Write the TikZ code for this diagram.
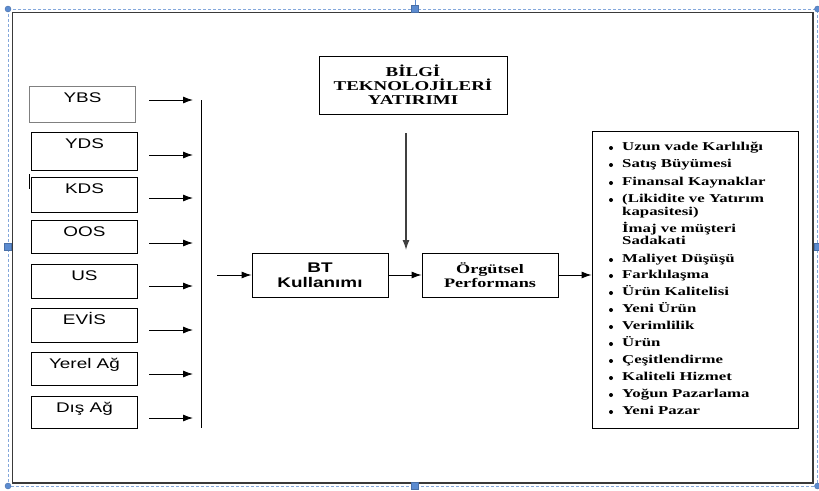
\documentclass[tikz,border=0pt]{standalone}
\usepackage{fontspec}
\setmainfont{Liberation Serif}
\newfontfamily\sansS[FakeStretch=1.35]{Liberation Sans}
\newfontfamily\serS[FakeStretch=1.4]{Liberation Serif}
\usetikzlibrary{arrows.meta}
\definecolor{selblue}{HTML}{5B8BD0}
\definecolor{framecol}{HTML}{3A3A3A}
\begin{document}
\begin{tikzpicture}[x=1pt,y=-1pt,
  arr/.style={-{Latex[length=10pt,width=7pt]}, line width=0.9pt},
  inbox/.style={draw, line width=0.9pt, anchor=north west, inner sep=0pt, minimum width=106pt},
  lbl/.style={anchor=base, inner sep=0pt, font=\sansS\fontsize{14}{16}\selectfont},
  midbox/.style={draw, line width=0.9pt, align=center, inner sep=0pt},
  litem/.style={anchor=mid west, inner sep=0pt, font=\serS\bfseries\fontsize{12}{13}\selectfont},
  bul/.style={circle, fill, inner sep=0pt, minimum size=4pt},
  handle/.style={fill=selblue, draw=selblue!80!black, line width=0.4pt}
]
\useasboundingbox (0,0) rectangle (819,490);
% selection frame
\draw[selblue!75, line width=1pt, dash pattern=on 3pt off 2pt] (8,9) rectangle (817.5,486);
% outer frame
\draw[framecol, line width=1.4pt] (12.5,12.5) rectangle (813,483);
% handles
\draw[selblue, line width=1pt] (415,0) -- (415,9);
\foreach \hx/\hy in {8/9, 817.5/9, 8/486, 817.5/486}
  \filldraw[handle] (\hx,\hy) circle (3pt);
\foreach \hx/\hy in {415/9, 415/486, 8/247, 817.5/247}
  \filldraw[handle] (\hx-3.5,\hy-3.5) rectangle (\hx+3.5,\hy+3.5);

% left boxes
\foreach \i/\bx/\by/\bh/\t/\ay/\bc in {1/29/86/36/YBS/100/gray, 2/31/132/38/YDS/155/black, 3/31/177/35/KDS/198/black, 4/31/220/33/OOS/243/black, 5/31/264/34/US/286/black, 6/31/308/34/EVİS/330/black, 7/31/352/33/Yerel Ağ/374/black, 8/31/396/32/Dış Ağ/418/black}{
  \node[inbox, draw=\bc, minimum height=\bh pt] (b\i) at (\bx,\by) {};
  \node[lbl] (t\i) at ([yshift=-16pt]b\i.north) {\t};
  \coordinate (s\i) at (149,\ay);
  \coordinate (e\i) at (193,\ay);
  \draw[arr] (s\i) -- (e\i);
}
\draw[line width=1pt] (29,174) -- (29,189);

% bus line
\coordinate (busT) at (201.5,100);
\coordinate (busB) at (201.5,428);
\draw[line width=1pt] (busT) -- (busB);
\coordinate (busOut) at (217,275);

% middle boxes
\node[midbox, minimum width=136pt, minimum height=44pt, font=\sansS\bfseries\fontsize{14}{15}\selectfont] (bt) at (320,275) {BT\\Kullanımı};
\node[midbox, minimum width=136pt, minimum height=44pt, font=\serS\bfseries\fontsize{13}{14}\selectfont] (org) at (490,275) {Örgütsel\\Performans};
\node[midbox, minimum width=188pt, minimum height=58pt, font=\serS\bfseries\fontsize{13.5}{14}\selectfont] (bilgi) at (413,85) {BİLGİ\\TEKNOLOJİLERİ\\YATIRIMI};
\node[draw, line width=0.9pt, minimum width=206pt, minimum height=297pt, inner sep=0pt] (list) at (695,279.5) {};

\draw[arr] (busOut) -- (bt.west);
\draw[arr] (bt.east) -- (org.west);
\draw[arr] (org.east) -- (org.east -| list.west);
\coordinate (vT) at (406,133);
\coordinate (vB) at (406,250);
\draw[arr, line width=1.3pt, black!75] (vT) -- (vB);

% list items
\foreach \i/\y/\t/\b in {1/148/Uzun vade Karlılığı/1, 2/165/Satış Büyümesi/1, 3/183/Finansal Kaynaklar/1, 4/200/(Likidite ve Yatırım/1, 5/213/kapasitesi)/0, 6/230/İmaj ve müşteri/0, 7/242/Sadakati/0, 8/260/Maliyet Düşüşü/1, 9/276/Farklılaşma/1, 10/293/Ürün Kalitelisi/1, 11/310/Yeni Ürün/1, 12/327/Verimlilik/1, 13/344/Ürün/1, 14/361/Çeşitlendirme/1, 15/378/Kaliteli Hizmet/1, 16/395/Yoğun Pazarlama/1, 17/412/Yeni Pazar/1}{
  \node[litem] (li\i) at (622,\y) {\t};
  \ifnum\b=1 \node[bul] (bu\i) at (611,\y) {};\fi
}
\end{tikzpicture}
\end{document}
